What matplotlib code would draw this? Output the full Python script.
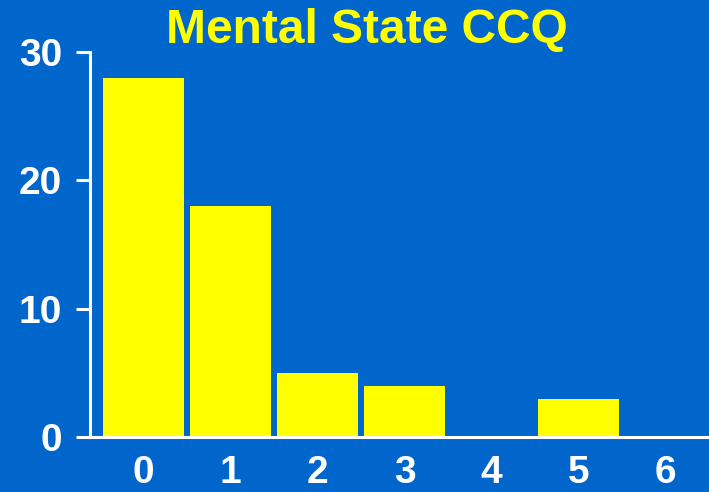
import matplotlib.pyplot as plt

plt.rcParams['font.family'] = ['Liberation Sans', 'DejaVu Sans']

scores = [0, 1, 2, 3, 4, 5, 6]
counts = [28, 18, 5, 4, 0, 3, 0]
y_ticks = [0, 10, 20, 30]

bg = '#0066CC'
bar_color = '#FFFF00'

fig = plt.figure(figsize=(7.09, 4.92), dpi=100, facecolor=bg)
ax = fig.add_axes([90 / 709, 55 / 492, 619 / 709, 385 / 492], facecolor=bg)

ax.bar(scores, counts, width=0.93, color=bar_color, edgecolor='none', zorder=2)

ax.set_xlim(-0.615, 6.5)
ax.set_ylim(0, 30)
ax.set_yticks(y_ticks)
ax.set_xticks(scores)

for side in ['top', 'right']:
    ax.spines[side].set_visible(False)
for side in ['left', 'bottom']:
    ax.spines[side].set_color('white')
    ax.spines[side].set_linewidth(2.2)
    ax.spines[side].set_zorder(3)

ax.tick_params(axis='y', colors='white', length=10, width=2.2, pad=10,
               labelsize=28)
ax.tick_params(axis='x', colors='white', length=0, pad=13, labelsize=28)
for lbl in ax.get_xticklabels() + ax.get_yticklabels():
    lbl.set_fontweight('bold')

fig.text(0.5 * (165 + 568) / 709, 1 - 31 / 492, 'Mental State CCQ',
         color=bar_color, fontsize=34.5, fontweight='bold',
         ha='center', va='center')

fig.savefig('out.png', dpi=100, facecolor=bg)
